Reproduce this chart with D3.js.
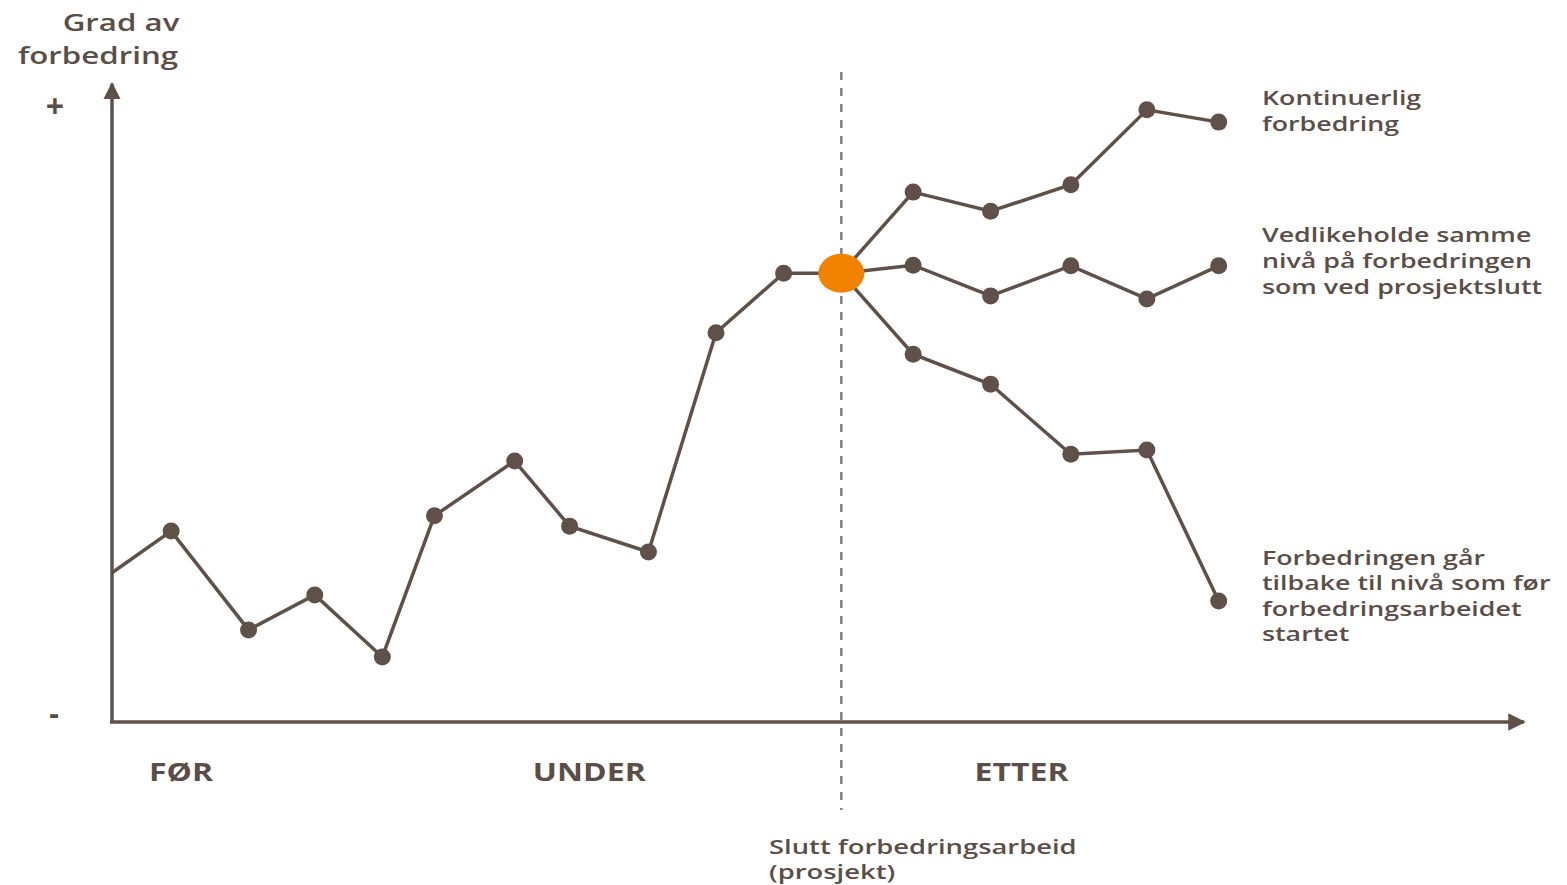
<!DOCTYPE html>
<html><head><meta charset="utf-8">
<script src="https://cdn.jsdelivr.net/npm/d3@7"></script>
<style>body{margin:0;background:#fff}</style>
</head><body>
<svg id="c" width="1567" height="885"></svg>
<script>
// Data (abstract units: time 0-100, improvement level 0-100)
const mainT = [0, 4.2, 9.7, 14.4, 19.2, 22.9, 28.6, 32.5, 38.1, 42.9, 47.7];
const mainV = [24.3, 31.1, 15.0, 20.7, 10.6, 33.6, 42.5, 31.9, 27.7, 63.4, 73.1];
const endT = 51.8, endV = 73.1;
const afterT = [56.9, 62.4, 68.1, 73.5, 78.6];
const continuousV = [86.3, 83.2, 87.5, 99.7, 97.7];
const maintainV = [74.4, 69.4, 74.3, 68.9, 74.3];
const declineV = [59.9, 55.0, 43.6, 44.3, 19.7];
const phaseLabels = ["FØR", "UNDER", "ETTER"];
const phaseT = [4.9, 33.9, 64.6];
const seriesLabels = [
  ["Kontinuerlig", "forbedring"],
  ["Vedlikeholde samme", "nivå på forbedringen", "som ved prosjektslutt"],
  ["Forbedringen går", "tilbake til nivå som før", "forbedringsarbeidet", "startet"]
];
const yLabel = ["Grad av", "forbedring"];
const markerLabel = ["Slutt forbedringsarbeid", "(prosjekt)"];

const svg = d3.select("#c");
const ink = "#5f514a", txt = "#5b4e47", orange = "#f18300";
const x = d3.scaleLinear().domain([0, 100]).range([112, 1520]);
const y = d3.scaleLinear().domain([0, 100]).range([722, 108]);
const font = "'Open Sans', sans-serif";

const defs = svg.append("defs");
defs.append("marker").attr("id","arr").attr("viewBox","0 0 10 10").attr("refX",9).attr("refY",5)
  .attr("markerWidth",5).attr("markerHeight",5).attr("markerUnits","strokeWidth").attr("orient","auto")
  .append("path").attr("d","M0,0 L10,5 L0,10 Z").attr("fill",ink);

// dashed marker line
svg.append("line").attr("x1",x(endT)).attr("x2",x(endT)).attr("y1",72).attr("y2",810)
  .attr("stroke","#808080").attr("stroke-width",2.5).attr("stroke-dasharray","8,8");

// axes
svg.append("line").attr("x1",x(0)).attr("y1",y(0)+1).attr("x2",x(0)).attr("y2",y(102)-12)
  .attr("stroke",ink).attr("stroke-width",3.5).attr("marker-end","url(#arr)");
svg.append("line").attr("x1",x(0)-2).attr("y1",y(0)).attr("x2",x(100)+4).attr("y2",y(0))
  .attr("stroke",ink).attr("stroke-width",3.5).attr("marker-end","url(#arr)");

const line = d3.line().x(d=>x(d[0])).y(d=>y(d[1]));
const mainPts = mainT.map((t,i)=>[t, mainV[i]]).concat([[endT,endV]]);
const branches = [continuousV, maintainV, declineV].map(vals => [[endT,endV]].concat(afterT.map((t,i)=>[t, vals[i]])));

svg.append("path").attr("d", line(mainPts)).attr("fill","none").attr("stroke",ink).attr("stroke-width",3.5);
branches.forEach(b => svg.append("path").attr("d", line(b)).attr("fill","none").attr("stroke",ink).attr("stroke-width",3.5));

const dots = mainPts.slice(1, -1).concat(...branches.map(b=>b.slice(1)));
svg.selectAll("circle.d").data(dots).join("circle").attr("class","d")
  .attr("cx",d=>x(d[0])).attr("cy",d=>y(d[1])).attr("r",8.5).attr("fill",ink);
svg.append("ellipse").attr("cx",x(endT)).attr("cy",y(endV)).attr("rx",23).attr("ry",19.5).attr("fill",orange);

function textBlock(lines, px, py, lh, opts={}) {
  const g = svg.append("g").attr("transform",`translate(${px},${py}) scale(${opts.sx||1.3},1)`);
  lines.forEach((l,i)=>g.append("text").attr("x",0).attr("y",i*lh).text(l)
    .attr("font-family",font).attr("font-size",opts.size||20.6).attr("font-weight",opts.weight||600)
    .attr("fill",txt).attr("text-anchor",opts.anchor||"start"));
  return g;
}
// y label
textBlock([yLabel[0]], 121, 31, 0, {size:23.5, anchor:"middle", sx:1.33});
textBlock([yLabel[1]], 98, 64, 0, {size:23.5, anchor:"middle", sx:1.33});
// + / -
svg.append("text").attr("x",55).attr("y",y(100)+10).attr("text-anchor","middle").attr("font-family",font)
  .attr("font-size",32).attr("font-weight",700).attr("fill",txt).text("+");
svg.append("text").attr("x",54).attr("y",y(0)+2).attr("text-anchor","middle").attr("font-family",font)
  .attr("font-size",30).attr("font-weight",700).attr("fill",txt).text("-");

// phase labels
phaseLabels.forEach((p,i)=>textBlock([p], x(phaseT[i]), 781, 0, {size:25, weight:700, anchor:"middle", sx:1.28}));

// series labels
const lx = 1262;
textBlock(seriesLabels[0], lx, 105, 26);
textBlock(seriesLabels[1], lx, 242, 26);
textBlock(seriesLabels[2], lx, 565, 25.5);
// marker label
textBlock(markerLabel, 769, 854, 25.5, {size:20.6, sx:1.33});
</script>
</body></html>
